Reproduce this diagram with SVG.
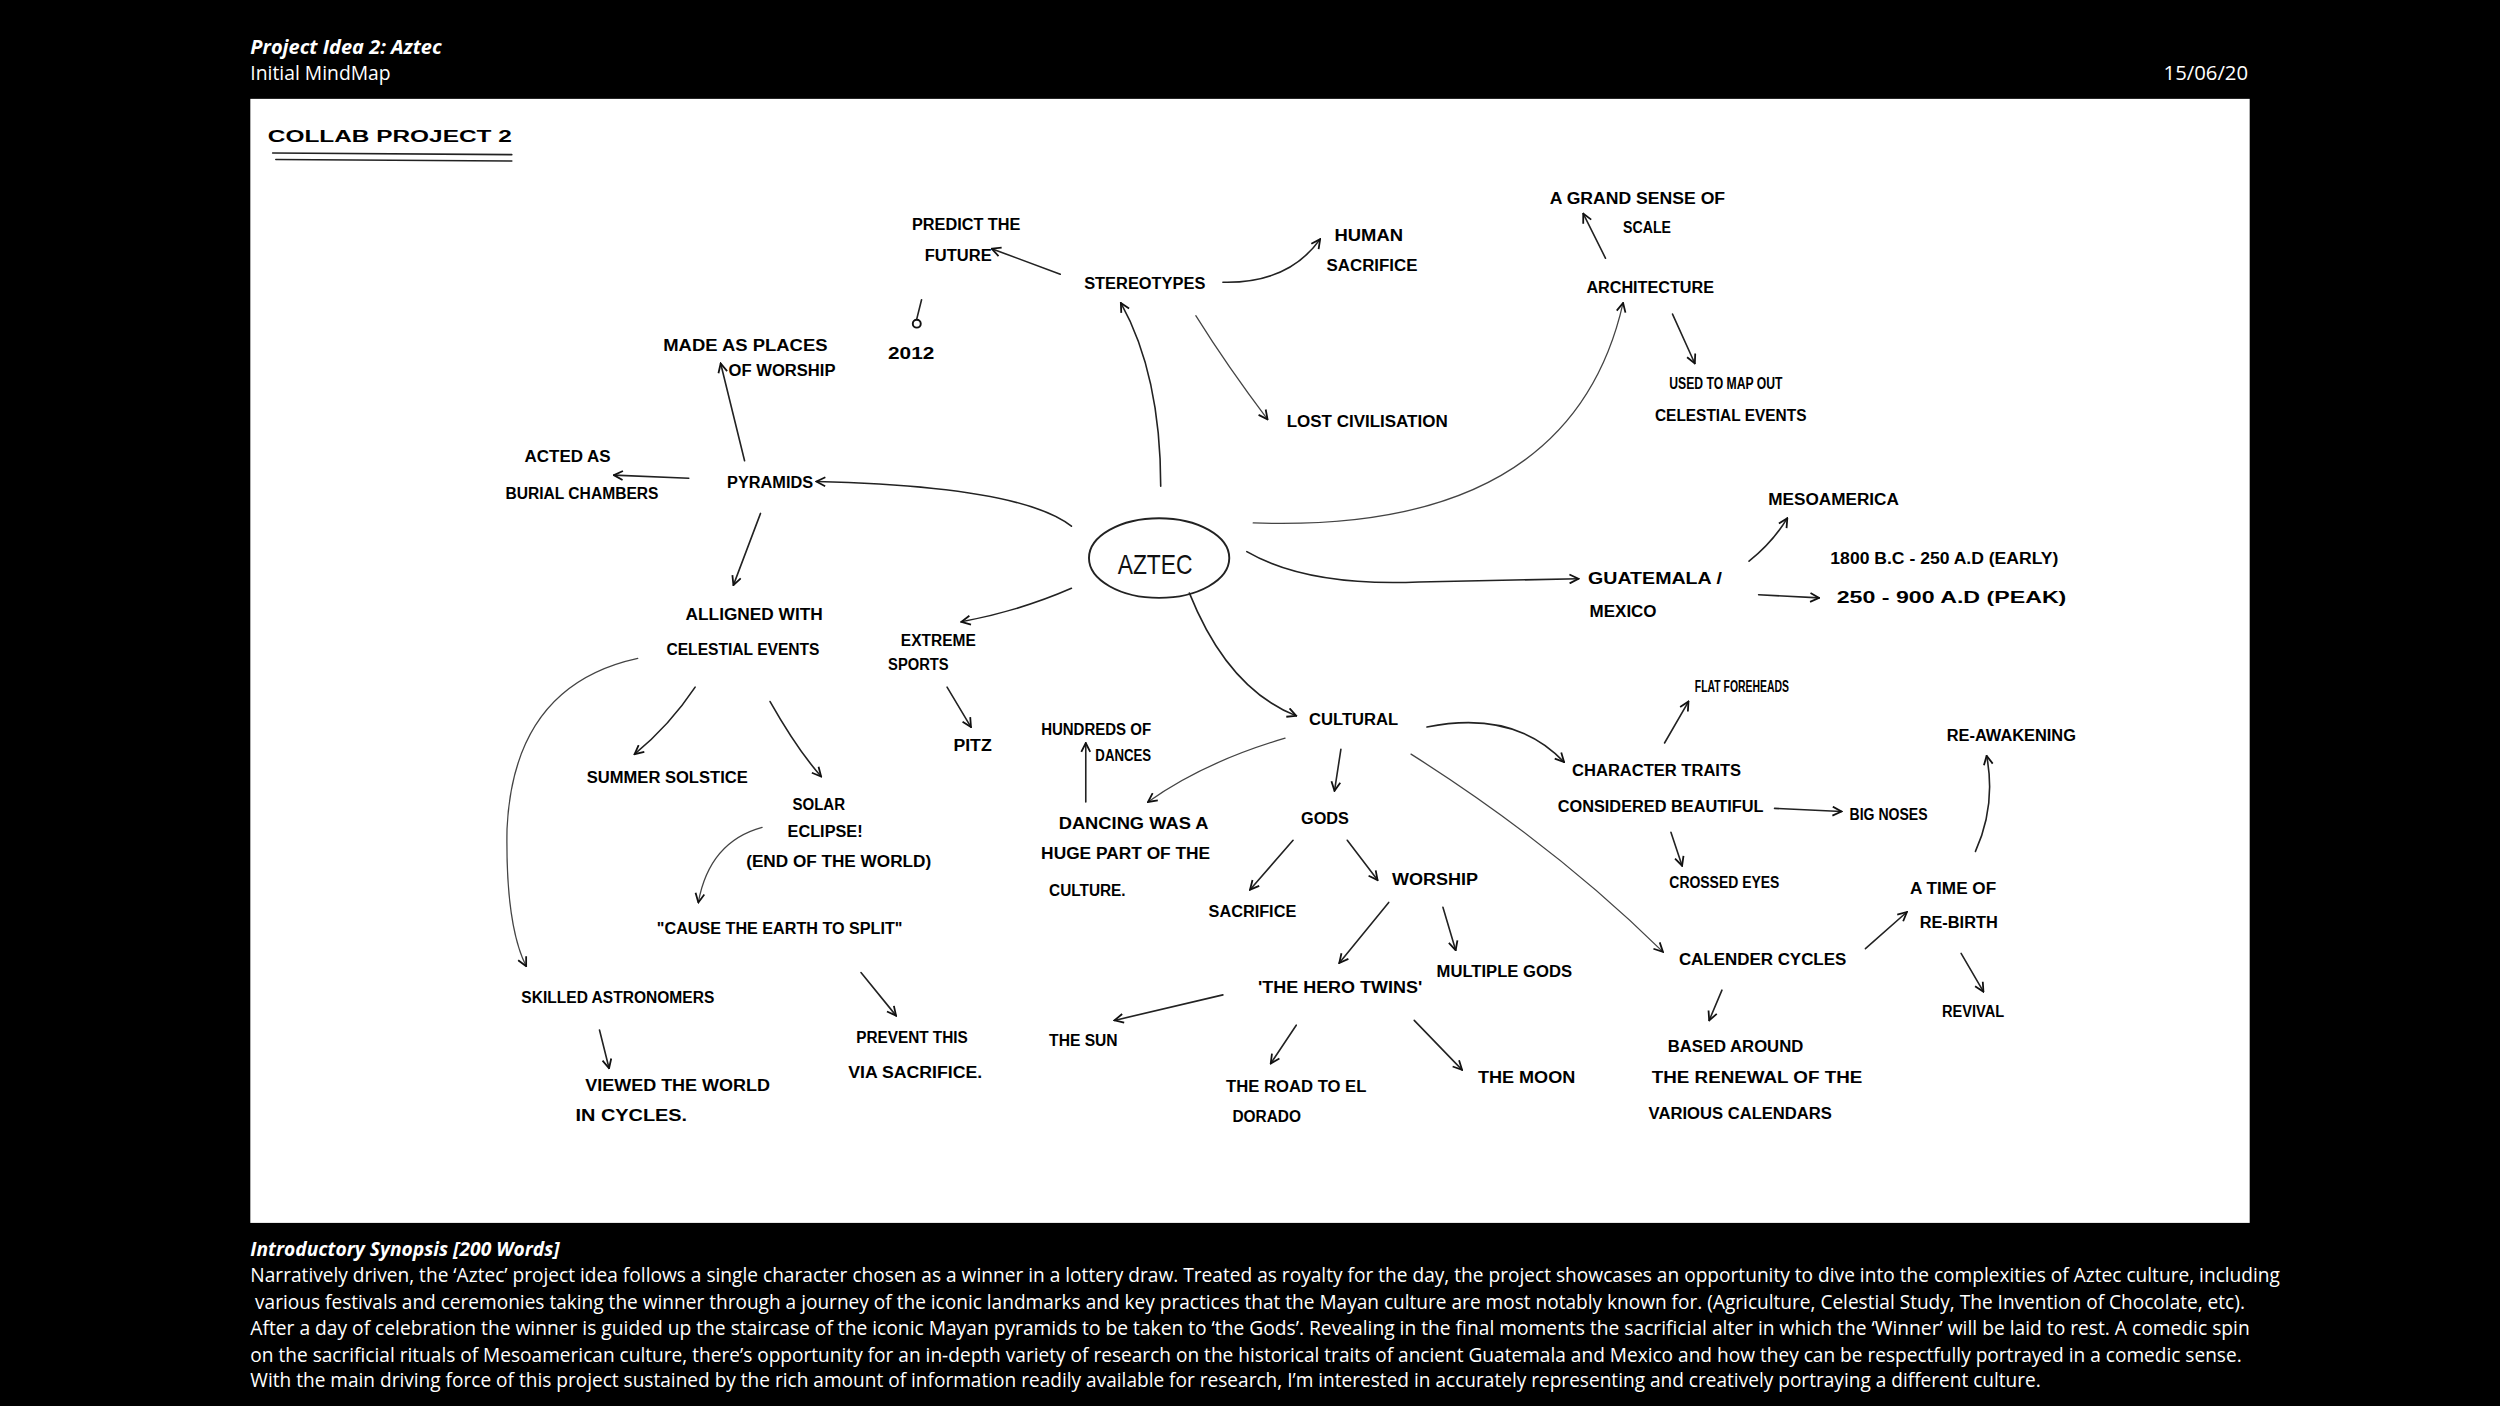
<svg xmlns="http://www.w3.org/2000/svg" width="2500" height="1406" viewBox="0 0 2500 1406">
<style>
.hd{font-family:"Open Sans","Liberation Sans",sans-serif;fill:#fff;font-size:12px}
.hdb{font-family:"Open Sans","Liberation Sans",sans-serif;fill:#fff;font-size:12.5px;font-weight:bold;font-style:italic}
.syn{font-family:"Open Sans","Liberation Sans",sans-serif;fill:#fff;font-size:12px}
.hw{font-family:"Liberation Sans","DejaVu Sans",sans-serif;fill:#000;font-size:10px;font-weight:bold}
.big{font-family:"Liberation Sans","DejaVu Sans",sans-serif;fill:#111;font-size:17px}
.c{fill:none;stroke:#222;stroke-width:1;stroke-linecap:round}
.cl{fill:none;stroke:#444;stroke-width:0.8;stroke-linecap:round}
</style>
<defs>
<marker id="ah" viewBox="0 0 10 10" refX="9" refY="5" markerWidth="7" markerHeight="7" markerUnits="userSpaceOnUse" orient="auto">
<path d="M1,1 L9,5 L1,9" fill="none" stroke="#111" stroke-width="1.6"/>
</marker>
</defs>
<rect width="2500" height="1406" fill="#000"/>
<g transform="scale(1.59439)">
<g id="header">
<text class="hdb" x="157" y="34" textLength="120" lengthAdjust="spacingAndGlyphs">Project Idea 2: Aztec</text>
<text class="hd" x="157" y="50" textLength="88" lengthAdjust="spacingAndGlyphs">Initial MindMap</text>
<text class="hd" x="1357" y="50" textLength="53" lengthAdjust="spacingAndGlyphs">15/06/20</text>
</g>
<rect id="panel" x="157" y="62" width="1254" height="705" fill="#fff"/>
<g id="title">
<text class="hw" x="168" y="89" font-size="11" textLength="153" lengthAdjust="spacingAndGlyphs">COLLAB   PROJECT   2</text>
<path class="c" d="M171,96 L321,97 M173,100 L321,101" stroke-width="1.3"/>
</g>
<g id="connectors">
<path class="c" d="M728,305 Q728,235 703,190" marker-end="url(#ah)"/>
<path class="c" d="M665,172 L622,156" marker-end="url(#ah)"/>
<path class="c" d="M767,177 Q808,178 828,150" marker-end="url(#ah)"/>
<path class="cl" d="M750,198 Q770,230 795,263" marker-end="url(#ah)"/>
<path class="c" d="M578,188 L575,200"/>
<circle cx="575" cy="203" r="2.5" fill="none" stroke="#111" stroke-width="1.2"/>
<path class="cl" d="M786,328 Q985,335 1018,190" marker-end="url(#ah)"/>
<path class="c" d="M1007,162 L993,134" marker-end="url(#ah)"/>
<path class="c" d="M1049,197 L1063,228" marker-end="url(#ah)"/>
<path class="c" d="M672,330 Q640,305 512,302" marker-end="url(#ah)"/>
<path class="c" d="M467,289 L452,228" marker-end="url(#ah)"/>
<path class="c" d="M432,300 L385,298" marker-end="url(#ah)"/>
<path class="c" d="M477,322 L460,367" marker-end="url(#ah)"/>
<path class="c" d="M672,369 Q640,383 603,390" marker-end="url(#ah)"/>
<path class="c" d="M594,431 L609,456" marker-end="url(#ah)"/>
<path class="c" d="M436,431 Q420,455 398,473" marker-end="url(#ah)"/>
<path class="c" d="M483,440 Q500,470 515,487" marker-end="url(#ah)"/>
<path class="cl" d="M400,413 Q322,430 318,520 Q317,580 330,606" marker-end="url(#ah)"/>
<path class="cl" d="M478,519 Q445,528 438,566" marker-end="url(#ah)"/>
<path class="c" d="M540,610 L562,637" marker-end="url(#ah)"/>
<path class="c" d="M376,646 L382,670" marker-end="url(#ah)"/>
<path class="c" d="M782,346 Q820,368 890,365 L990,363" marker-end="url(#ah)"/>
<path class="c" d="M1097,352 Q1112,340 1121,325" marker-end="url(#ah)"/>
<path class="c" d="M1103,373 L1141,375" marker-end="url(#ah)"/>
<path class="c" d="M746,372 Q770,432 813,449" marker-end="url(#ah)"/>
<path class="cl" d="M806,463 Q755,478 720,503" marker-end="url(#ah)"/>
<path class="c" d="M681,503 L681,466" marker-end="url(#ah)"/>
<path class="c" d="M841,470 L837,496" marker-end="url(#ah)"/>
<path class="c" d="M895,456 Q950,445 981,478" marker-end="url(#ah)"/>
<path class="cl" d="M885,473 Q975,530 1043,597" marker-end="url(#ah)"/>
<path class="c" d="M811,527 L784,558" marker-end="url(#ah)"/>
<path class="c" d="M845,527 L864,552" marker-end="url(#ah)"/>
<path class="c" d="M871,566 L840,604" marker-end="url(#ah)"/>
<path class="c" d="M905,569 L913,596" marker-end="url(#ah)"/>
<path class="c" d="M767,624 L699,640" marker-end="url(#ah)"/>
<path class="c" d="M813,643 L797,667" marker-end="url(#ah)"/>
<path class="c" d="M887,640 L917,671" marker-end="url(#ah)"/>
<path class="c" d="M1044,466 L1059,440" marker-end="url(#ah)"/>
<path class="c" d="M1113,507 L1155,509" marker-end="url(#ah)"/>
<path class="c" d="M1048,522 L1055,543" marker-end="url(#ah)"/>
<path class="c" d="M1080,621 L1072,640" marker-end="url(#ah)"/>
<path class="c" d="M1170,595 L1196,572" marker-end="url(#ah)"/>
<path class="c" d="M1239,534 Q1252,505 1246,474" marker-end="url(#ah)"/>
<path class="c" d="M1230,598 L1244,622" marker-end="url(#ah)"/>
</g>
<g id="aztec">
<ellipse cx="727" cy="350" rx="44" ry="25" fill="none" stroke="#222" stroke-width="1.2"/>
<text class="big" x="701" y="360" textLength="47" lengthAdjust="spacingAndGlyphs">AZTEC</text>
</g>
<g id="stereotypes"><text class="hw" x="680" y="181" textLength="76" lengthAdjust="spacingAndGlyphs">STEREOTYPES</text></g>
<g id="predict"><text class="hw" x="572" y="144" textLength="68" lengthAdjust="spacingAndGlyphs">PREDICT THE</text><text class="hw" x="580" y="164" textLength="42" lengthAdjust="spacingAndGlyphs">FUTURE</text></g>
<g id="y2012"><text class="hw" x="557" y="225" textLength="29" lengthAdjust="spacingAndGlyphs">2012</text></g>
<g id="human"><text class="hw" x="837" y="151" textLength="43" lengthAdjust="spacingAndGlyphs">HUMAN</text><text class="hw" x="832" y="170" textLength="57" lengthAdjust="spacingAndGlyphs">SACRIFICE</text></g>
<g id="lost"><text class="hw" x="807" y="268" textLength="101" lengthAdjust="spacingAndGlyphs">LOST CIVILISATION</text></g>
<g id="grand"><text class="hw" x="972" y="128" textLength="110" lengthAdjust="spacingAndGlyphs">A GRAND SENSE OF</text><text class="hw" x="1018" y="146" textLength="30" lengthAdjust="spacingAndGlyphs">SCALE</text></g>
<g id="architecture"><text class="hw" x="995" y="184" textLength="80" lengthAdjust="spacingAndGlyphs">ARCHITECTURE</text></g>
<g id="usedto"><text class="hw" x="1047" y="244" textLength="71" lengthAdjust="spacingAndGlyphs">USED TO MAP OUT</text><text class="hw" x="1038" y="264" textLength="95" lengthAdjust="spacingAndGlyphs">CELESTIAL EVENTS</text></g>
<g id="madeas"><text class="hw" x="416" y="220" textLength="103" lengthAdjust="spacingAndGlyphs">MADE AS  PLACES</text><text class="hw" x="457" y="236" textLength="67" lengthAdjust="spacingAndGlyphs">OF WORSHIP</text></g>
<g id="acted"><text class="hw" x="329" y="290" textLength="54" lengthAdjust="spacingAndGlyphs">ACTED AS</text><text class="hw" x="317" y="313" textLength="96" lengthAdjust="spacingAndGlyphs">BURIAL CHAMBERS</text></g>
<g id="pyramids"><text class="hw" x="456" y="306" textLength="54" lengthAdjust="spacingAndGlyphs">PYRAMIDS</text></g>
<g id="alligned"><text class="hw" x="430" y="389" textLength="86" lengthAdjust="spacingAndGlyphs">ALLIGNED WITH</text><text class="hw" x="418" y="411" textLength="96" lengthAdjust="spacingAndGlyphs">CELESTIAL EVENTS</text></g>
<g id="extreme"><text class="hw" x="565" y="405" textLength="47" lengthAdjust="spacingAndGlyphs">EXTREME</text><text class="hw" x="557" y="420" textLength="38" lengthAdjust="spacingAndGlyphs">SPORTS</text></g>
<g id="pitz"><text class="hw" x="598" y="471" textLength="24" lengthAdjust="spacingAndGlyphs">PITZ</text></g>
<g id="summer"><text class="hw" x="368" y="491" textLength="101" lengthAdjust="spacingAndGlyphs">SUMMER SOLSTICE</text></g>
<g id="solar"><text class="hw" x="497" y="508" textLength="33" lengthAdjust="spacingAndGlyphs">SOLAR</text><text class="hw" x="494" y="525" textLength="47" lengthAdjust="spacingAndGlyphs">ECLIPSE!</text><text class="hw" x="468" y="544" textLength="116" lengthAdjust="spacingAndGlyphs">(END OF THE WORLD)</text></g>
<g id="cause"><text class="hw" x="412" y="586" textLength="154" lengthAdjust="spacingAndGlyphs">"CAUSE THE EARTH TO SPLIT"</text></g>
<g id="skilled"><text class="hw" x="327" y="629" textLength="121" lengthAdjust="spacingAndGlyphs">SKILLED ASTRONOMERS</text></g>
<g id="viewed"><text class="hw" x="367" y="684" textLength="116" lengthAdjust="spacingAndGlyphs">VIEWED  THE  WORLD</text><text class="hw" x="361" y="703" textLength="70" lengthAdjust="spacingAndGlyphs">IN  CYCLES.</text></g>
<g id="prevent"><text class="hw" x="537" y="654" textLength="70" lengthAdjust="spacingAndGlyphs">PREVENT THIS</text><text class="hw" x="532" y="676" textLength="84" lengthAdjust="spacingAndGlyphs">VIA SACRIFICE.</text></g>
<g id="mesoamerica"><text class="hw" x="1109" y="317" textLength="82" lengthAdjust="spacingAndGlyphs">MESOAMERICA</text></g>
<g id="guatemala"><text class="hw" x="996" y="366" textLength="84" lengthAdjust="spacingAndGlyphs">GUATEMALA  /</text><text class="hw" x="997" y="387" textLength="42" lengthAdjust="spacingAndGlyphs">MEXICO</text></g>
<g id="dates"><text class="hw" x="1148" y="354" textLength="143" lengthAdjust="spacingAndGlyphs">1800 B.C - 250 A.D (EARLY)</text><text class="hw" x="1152" y="378" textLength="144" lengthAdjust="spacingAndGlyphs">250 - 900 A.D  (PEAK)</text></g>
<g id="cultural"><text class="hw" x="821" y="455" textLength="56" lengthAdjust="spacingAndGlyphs">CULTURAL</text></g>
<g id="hundreds"><text class="hw" x="653" y="461" textLength="69" lengthAdjust="spacingAndGlyphs">HUNDREDS OF</text><text class="hw" x="687" y="477" textLength="35" lengthAdjust="spacingAndGlyphs">DANCES</text></g>
<g id="dancing"><text class="hw" x="664" y="520" textLength="94" lengthAdjust="spacingAndGlyphs">DANCING  WAS A</text><text class="hw" x="653" y="539" textLength="106" lengthAdjust="spacingAndGlyphs">HUGE PART OF  THE</text><text class="hw" x="658" y="562" textLength="48" lengthAdjust="spacingAndGlyphs">CULTURE.</text></g>
<g id="gods"><text class="hw" x="816" y="517" textLength="30" lengthAdjust="spacingAndGlyphs">GODS</text></g>
<g id="sacrifice"><text class="hw" x="758" y="575" textLength="55" lengthAdjust="spacingAndGlyphs">SACRIFICE</text></g>
<g id="worship"><text class="hw" x="873" y="555" textLength="54" lengthAdjust="spacingAndGlyphs">WORSHIP</text></g>
<g id="multiple"><text class="hw" x="901" y="613" textLength="85" lengthAdjust="spacingAndGlyphs">MULTIPLE  GODS</text></g>
<g id="herotwins"><text class="hw" x="789" y="623" textLength="103" lengthAdjust="spacingAndGlyphs">'THE  HERO TWINS'</text></g>
<g id="sun"><text class="hw" x="658" y="656" textLength="43" lengthAdjust="spacingAndGlyphs">THE SUN</text></g>
<g id="road"><text class="hw" x="769" y="685" textLength="88" lengthAdjust="spacingAndGlyphs">THE ROAD TO EL</text><text class="hw" x="773" y="704" textLength="43" lengthAdjust="spacingAndGlyphs">DORADO</text></g>
<g id="moon"><text class="hw" x="927" y="679" textLength="61" lengthAdjust="spacingAndGlyphs">THE  MOON</text></g>
<g id="flat"><text class="hw" x="1063" y="434" textLength="59" lengthAdjust="spacingAndGlyphs">FLAT FOREHEADS</text></g>
<g id="character"><text class="hw" x="986" y="487" textLength="106" lengthAdjust="spacingAndGlyphs">CHARACTER  TRAITS</text><text class="hw" x="977" y="509" textLength="129" lengthAdjust="spacingAndGlyphs">CONSIDERED  BEAUTIFUL</text></g>
<g id="bignoses"><text class="hw" x="1160" y="514" textLength="49" lengthAdjust="spacingAndGlyphs">BIG NOSES</text></g>
<g id="crossed"><text class="hw" x="1047" y="557" textLength="69" lengthAdjust="spacingAndGlyphs">CROSSED EYES</text></g>
<g id="calender"><text class="hw" x="1053" y="605" textLength="105" lengthAdjust="spacingAndGlyphs">CALENDER  CYCLES</text></g>
<g id="based"><text class="hw" x="1046" y="660" textLength="85" lengthAdjust="spacingAndGlyphs">BASED  AROUND</text><text class="hw" x="1036" y="679" textLength="132" lengthAdjust="spacingAndGlyphs">THE RENEWAL  OF  THE</text><text class="hw" x="1034" y="702" textLength="115" lengthAdjust="spacingAndGlyphs">VARIOUS  CALENDARS</text></g>
<g id="timeof"><text class="hw" x="1198" y="561" textLength="54" lengthAdjust="spacingAndGlyphs">A TIME  OF</text><text class="hw" x="1204" y="582" textLength="49" lengthAdjust="spacingAndGlyphs">RE-BIRTH</text></g>
<g id="revival"><text class="hw" x="1218" y="638" textLength="39" lengthAdjust="spacingAndGlyphs">REVIVAL</text></g>
<g id="reawakening"><text class="hw" x="1221" y="465" textLength="81" lengthAdjust="spacingAndGlyphs">RE-AWAKENING</text></g>
<g id="synopsis">
<text class="hdb" x="157" y="788" textLength="194" lengthAdjust="spacingAndGlyphs">Introductory Synopsis [200 Words]</text>
<text class="syn" x="157" y="804" textLength="1273" lengthAdjust="spacingAndGlyphs">Narratively driven, the ‘Aztec’ project idea follows a single character chosen as a winner in a lottery draw. Treated as royalty for the day, the project showcases an opportunity to dive into the complexities of Aztec culture, including</text>
<text class="syn" x="160" y="821" textLength="1248" lengthAdjust="spacingAndGlyphs">various festivals and ceremonies taking the winner through a journey of the iconic landmarks and key practices that the Mayan culture are most notably known for. (Agriculture, Celestial Study, The Invention of Chocolate, etc).</text>
<text class="syn" x="157" y="837" textLength="1254" lengthAdjust="spacingAndGlyphs">After a day of celebration the winner is guided up the staircase of the iconic Mayan pyramids to be taken to ‘the Gods’. Revealing in the final moments the sacrificial alter in which the ‘Winner’ will be laid to rest. A comedic spin</text>
<text class="syn" x="157" y="854" textLength="1249" lengthAdjust="spacingAndGlyphs">on the sacrificial rituals of Mesoamerican culture, there’s opportunity for an in-depth variety of research on the historical traits of ancient Guatemala and Mexico and how they can be respectfully portrayed in a comedic sense.</text>
<text class="syn" x="157" y="870" textLength="1123" lengthAdjust="spacingAndGlyphs">With the main driving force of this project sustained by the rich amount of information readily available for research, I’m interested in accurately representing and creatively portraying a different culture.</text>
</g>
</g>
</svg>
